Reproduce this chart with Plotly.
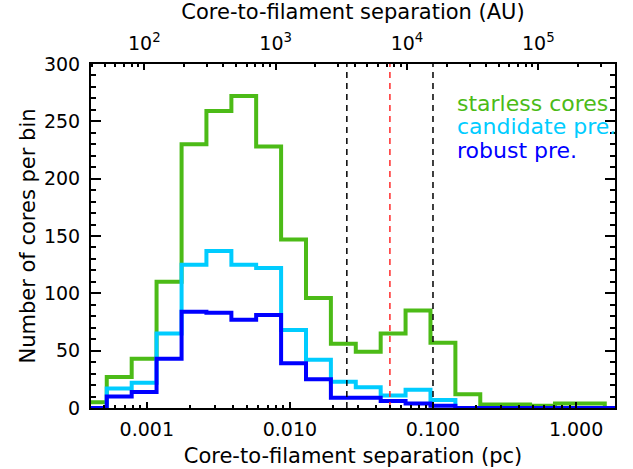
import plotly.graph_objects as go

# ---- data ----
bin_edges_pc = [0.000352, 0.000525, 0.000784, 0.00117, 0.00175, 0.00261, 0.00390,
                0.00581, 0.00868, 0.01296, 0.01934, 0.02887, 0.04310, 0.06433,
                0.09605, 0.1434, 0.2140, 0.3195, 0.4770, 0.7120, 1.063, 1.587, 2.369]
starless_cores = [5, 27, 43, 110, 230, 259, 272, 228, 147, 96, 56, 49, 65, 85, 57,
                  12, 3, 3, 2, 4, 4, 0]
candidate_pre = [0, 17, 22, 65, 125, 137, 125, 122, 68, 42, 23, 18, 11, 16, 7,
                 0, 0, 0, 0, 0, 0, 0]
robust_pre = [0, 10, 14, 43, 84, 83, 77, 81, 39, 25, 9, 9, 6, 4, 2,
              0, 0, 0, 0, 0, 0, 0]

black_lines_pc = [0.025, 0.1]
red_lines_pc = [0.05]

pc_tick_vals = [0.001, 0.01, 0.1, 1.0]
pc_tick_text = ["0.001", "0.010", "0.100", "1.000"]
au_tick_vals = [1e2, 1e3, 1e4, 1e5]
au_tick_text = ["10<sup>2</sup>", "10<sup>3</sup>", "10<sup>4</sup>", "10<sup>5</sup>"]
y_tick_vals = [0, 50, 100, 150, 200, 250, 300]

pc_minor = [m * 10.0 ** e for e in (-4, -3, -2, -1) for m in range(2, 10)]
au_minor = [m * 10.0 ** e for e in (1, 2, 3, 4, 5) for m in range(2, 10)]
y_minor = list(range(0, 301, 10))

GREEN = "#4cbb17"
CYAN = "#00ccff"
BLUE = "#0000ff"
FONT = "DejaVu Sans"

fig = go.Figure()

for vals, col in [(starless_cores, GREEN), (candidate_pre, CYAN), (robust_pre, BLUE)]:
    fig.add_trace(go.Scatter(x=bin_edges_pc, y=vals + [vals[-1]], mode="lines",
                             line=dict(shape="hv", color=col, width=4),
                             showlegend=False, hoverinfo="skip"))

for v in black_lines_pc:
    fig.add_trace(go.Scatter(x=[v, v], y=[0, 300], mode="lines",
                             line=dict(color="black", width=1.5, dash="6px,5px"),
                             showlegend=False, hoverinfo="skip"))
for v in red_lines_pc:
    fig.add_trace(go.Scatter(x=[v, v], y=[0, 300], mode="lines",
                             line=dict(color="#ff2a2a", width=1.5, dash="6px,5px"),
                             showlegend=False, hoverinfo="skip"))

# dummy trace for top AU axis
fig.add_trace(go.Scatter(x=[1e3], y=[-10], xaxis="x2", mode="markers",
                         marker=dict(opacity=0), showlegend=False, hoverinfo="skip"))

fig.update_layout(
    width=633, height=469,
    margin=dict(l=91, r=18, t=64, b=61, autoexpand=False),
    paper_bgcolor="white", plot_bgcolor="white",
    font=dict(family=FONT, size=19, color="black"),
    hovermode=False,
    xaxis=dict(type="log", range=[-3.390, 0.272], automargin=False,
               tickmode="array", tickvals=pc_tick_vals, ticktext=pc_tick_text,
               ticks="inside", ticklen=6, tickwidth=1.5, tickcolor="black",
               ticklabelstandoff=3,
               minor=dict(tickmode="array", tickvals=pc_minor, ticks="inside",
                          ticklen=3, tickwidth=1.5, tickcolor="black"),
               showline=True, linecolor="black", linewidth=2, mirror=True,
               showgrid=False, zeroline=False,
               tickfont=dict(size=19),
               title=dict(text="Core-to-filament separation (pc)",
                          font=dict(size=21), standoff=10)),
    xaxis2=dict(type="log", range=[1.594, 5.584], overlaying="x", side="top",
                anchor="y", automargin=False,
                tickmode="array", tickvals=au_tick_vals, ticktext=au_tick_text,
                ticks="inside", ticklen=6, tickwidth=1.5, tickcolor="black",
                ticklabelstandoff=4,
                minor=dict(tickmode="array", tickvals=au_minor, ticks="inside",
                           ticklen=3, tickwidth=1.5, tickcolor="black"),
                showline=True, linecolor="black", linewidth=2,
                showgrid=False, zeroline=False,
                tickfont=dict(size=19),
                title=dict(text="Core-to-filament separation (AU)",
                           font=dict(size=21), standoff=6)),
    yaxis=dict(range=[0, 300], tickmode="array", tickvals=y_tick_vals,
               automargin=False,
               ticks="inside", ticklen=10, tickwidth=1.5, tickcolor="black",
               ticklabelstandoff=5,
               minor=dict(tickmode="array", tickvals=y_minor, ticks="inside",
                          ticklen=5, tickwidth=1.5, tickcolor="black"),
               showline=True, linecolor="black", linewidth=2, mirror="ticks",
               showgrid=False, zeroline=False,
               tickfont=dict(size=19),
               title=dict(text="Number of cores per bin", font=dict(size=21),
                          standoff=3)),
)

legend_items = [("starless cores", GREEN, 0.884), ("candidate pre.", CYAN, 0.817),
                ("robust pre.", BLUE, 0.750)]
for txt, col, yy in legend_items:
    fig.add_annotation(text=txt, x=0.695, y=yy, xref="paper", yref="paper",
                       xanchor="left", yanchor="middle", showarrow=False,
                       font=dict(family=FONT, size=22, color=col))

fig.write_html("out.html", config={"displayModeBar": False},
               post_script="document.body.style.margin='0px';")
